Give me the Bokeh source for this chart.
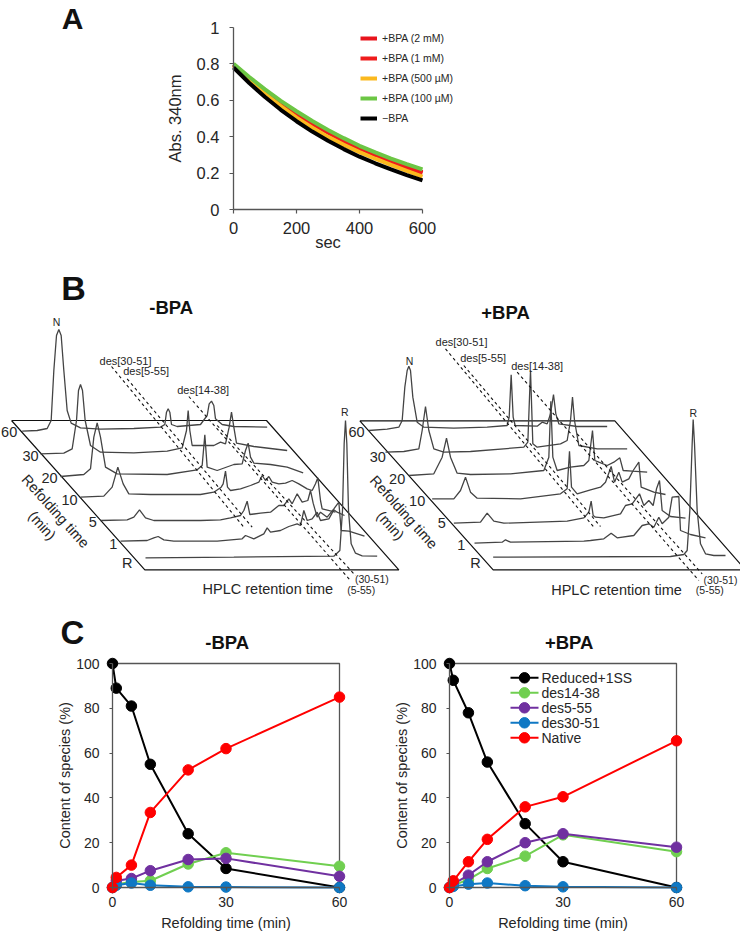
from bokeh.plotting import figure
from bokeh.layouts import column, row
from bokeh.models import Label, Legend, LegendItem, FixedTicker, Range1d
from bokeh.core.properties import value
from bokeh.embed import file_html
from bokeh.resources import INLINE

FONT = "Liberation Sans"
INK = "#262626"
AXIS = "#555555"

# ---------- Panel A: absorbance vs. time ----------
sec = [0, 50, 100, 150, 200, 250, 300, 350, 400, 450, 500, 550, 600]
abs_2mM = [0.797, 0.72, 0.65, 0.587, 0.53, 0.477, 0.428, 0.383, 0.342, 0.305, 0.27, 0.237, 0.205]
abs_1mM = [0.795, 0.718, 0.648, 0.584, 0.525, 0.471, 0.422, 0.376, 0.335, 0.298, 0.265, 0.232, 0.2]
abs_500uM = [0.79, 0.71, 0.636, 0.568, 0.505, 0.45, 0.399, 0.355, 0.315, 0.279, 0.245, 0.212, 0.18]
abs_100uM = [0.8, 0.728, 0.66, 0.597, 0.54, 0.486, 0.437, 0.392, 0.35, 0.314, 0.28, 0.249, 0.22]
abs_none = [0.78, 0.695, 0.618, 0.548, 0.485, 0.428, 0.378, 0.332, 0.29, 0.254, 0.22, 0.189, 0.16]
a_x_ticks = [0, 200, 400, 600]
a_y_ticks = [0, 0.2, 0.4, 0.6, 0.8, 1]
a_y_labels = ["0", "0.2", "0.4", "0.6", "0.8", "1"]

# ---------- Panel C: species content ----------
refold_t = [0, 1, 5, 10, 20, 30, 60]
minus_reduced = [100, 89, 81, 55, 24, 8.5, 0]
minus_des1438 = [0, 1.5, 2.5, 3, 10.5, 15.5, 9.5]
minus_des555 = [0, 3, 4, 7.5, 12.5, 13, 5]
minus_des3051 = [0, 1, 2, 1, 0.3, 0.2, 0]
minus_native = [0, 4.5, 10, 33.5, 52.5, 62, 85]
plus_reduced = [100, 92.5, 78, 56, 28.5, 11.5, 0]
plus_des1438 = [0, 1, 3.5, 8.5, 14, 23.5, 16]
plus_des555 = [0, 1.5, 5.5, 11.5, 20, 24, 18]
plus_des3051 = [0, 0.5, 1.5, 2, 0.8, 0.3, 0]
plus_native = [0, 3, 11.5, 21.5, 36, 40.5, 65.5]
c_x_ticks = [0, 30, 60]
c_y_ticks = [0, 20, 40, 60, 80, 100]

# ---------- Panel B: chromatograms (retention, signal) ----------
m60_rt = [0, 45, 75, 87, 95, 103, 110, 117, 125, 135, 147, 175, 235, 335, 415, 428, 433, 438, 443, 448, 465, 535, 555, 561, 568, 575, 580, 600, 635, 735]
m60_sig = [-2, 0, 6, 30, 180, 285, 303, 285, 180, 60, 22, 8, 4, 6, 10, 18, 55, 65, 55, 18, 12, 18, 45, 80, 88, 75, 35, 18, 12, 10]
m30_rt = [0, 70, 95, 108, 114, 120, 126, 134, 150, 180, 280, 380, 425, 438, 443, 448, 455, 520, 540, 555, 566, 573, 580, 588, 640, 740]
m30_sig = [0, 2, 15, 100, 190, 208, 190, 100, 25, 5, 3, 8, 18, 70, 130, 70, 25, 25, 35, 30, 80, 125, 80, 32, 22, 10]
m20_rt = [0, 70, 90, 100, 110, 120, 135, 170, 320, 410, 425, 433, 440, 470, 520, 545, 555, 563, 570, 580, 630, 680, 728]
m20_sig = [0, 6, 23, 118, 161, 118, 28, 8, 6, 20, 33, 125, 28, 18, 36, 38, 78, 100, 58, 40, 36, 28, 11]
m10_rt = [0, 70, 95, 112, 128, 145, 210, 360, 400, 422, 428, 435, 441, 450, 480, 510, 535, 545, 555, 565, 575, 595, 615, 635, 655, 680, 695, 705, 712, 720, 725, 765]
m10_sig = [0, 3, 30, 90, 40, 10, 8, 8, 15, 30, 40, 78, 30, 20, 25, 35, 45, 65, 50, 62, 45, 40, 42, 50, 40, 25, 20, 40, 58, -10, -35, -45]
m5_rt = [0, 80, 100, 117, 135, 160, 300, 360, 390, 420, 430, 440, 448, 480, 510, 535, 550, 565, 575, 590, 605, 622, 630, 638, 650, 660, 680, 700, 715, 722, 745, 792]
m5_sig = [0, 2, 10, 32, 8, 0, 0, 2, 8, 15, 30, 58, 18, 22, 25, 45, 45, 65, 50, 80, 55, 60, 90, 52, 10, 25, 10, 35, 55, -30, -32, -47]
m1_rt = [0, 80, 100, 113, 130, 160, 290, 365, 375, 400, 430, 440, 450, 480, 505, 530, 540, 550, 560, 575, 590, 600, 625, 640, 650, 672]
m1_sig = [0, 2, 10, 14, 4, 0, 0, 7, 17, 7, 22, 40, 27, 32, 44, 52, 47, 92, 62, 67, 87, 62, 67, 94, 87, 77]
mR_rt = [0, 265, 565, 583, 591, 596, 600, 604, 609, 617, 630, 650, 695]
mR_sig = [0, 2, 5, 22, 142, 342, 412, 342, 142, 42, 14, 6, 5]

p60_rt = [0, 55, 90, 100, 108, 115, 120, 125, 132, 145, 165, 255, 355, 415, 421, 427, 433, 439, 505, 520, 535, 545, 554, 561, 570, 625, 715]
p60_sig = [0, 4, 10, 30, 130, 180, 193, 180, 100, 25, 10, 7, 10, 15, 40, 167, 40, 15, 13, 25, 20, 50, 108, 50, 20, 12, 12]
p30_rt = [0, 55, 100, 110, 120, 130, 145, 175, 255, 415, 427, 435, 442, 455, 525, 545, 555, 561, 567, 580, 635, 725]
p30_sig = [0, 2, 10, 65, 137, 65, 10, 0, 2, 15, 30, 245, 25, 15, 25, 35, 95, 165, 95, 20, 10, 10]
p20_rt = [0, 75, 100, 113, 125, 145, 185, 305, 405, 420, 426, 432, 445, 485, 525, 540, 551, 558, 570, 595, 615, 633, 643, 670, 715]
p20_sig = [0, 5, 55, 112, 55, 7, 3, 5, 15, 55, 223, 55, 15, 25, 30, 45, 135, 45, 40, 30, 40, 53, 15, 13, 10]
p10_rt = [0, 65, 85, 100, 115, 135, 265, 385, 405, 412, 418, 435, 475, 505, 520, 537, 547, 560, 570, 590, 603, 620, 627, 665, 700]
p10_sig = [0, 0, 25, 65, 20, 2, 0, 15, 30, 143, 35, 15, 27, 35, 50, 97, 50, 80, 50, 60, 85, 110, 35, 20, 13]
p5_rt = [0, 80, 100, 120, 150, 340, 390, 405, 412, 418, 425, 450, 500, 515, 535, 557, 570, 585, 598, 608, 617, 625, 650, 695]
p5_sig = [0, 3, 30, 6, 0, 6, 16, 33, 66, 23, 18, 16, 28, 53, 58, 88, 53, 68, 53, 103, 128, 38, 20, 15]
p1_rt = [0, 83, 93, 108, 328, 348, 388, 410, 428, 478, 503, 523, 538, 553, 563, 583, 593, 613, 618, 648, 693]
p1_sig = [0, 3, 10, 3, 6, 8, 13, 30, 16, 23, 53, 58, 48, 78, 58, 78, 138, 140, 38, 26, 16]
pR_rt = [0, 532, 572, 582, 590, 597, 600, 604, 612, 622, 637, 662, 697]
pR_sig = [0, 2, 8, 20, 140, 340, 413, 340, 140, 40, 10, 5, 5]

row_labels = ["60", "30", "20", "10", "5", "1", "R"]
minus_traces = [(m60_rt, m60_sig), (m30_rt, m30_sig), (m20_rt, m20_sig), (m10_rt, m10_sig), (m5_rt, m5_sig), (m1_rt, m1_sig), (mR_rt, mR_sig)]
plus_traces = [(p60_rt, p60_sig), (p30_rt, p30_sig), (p20_rt, p20_sig), (p10_rt, p10_sig), (p5_rt, p5_sig), (p1_rt, p1_sig), (pR_rt, pR_sig)]

# ---------- layout constants for the stack drawing (1 unit = 1/3 px) ----------
minus_origin = [(65, 480), (120, 550), (180, 618), (240, 680), (300, 750), (360, 812), (435, 862)]
plus_origin = [(-5, 480), (45, 545), (115, 615), (185, 685), (250, 758), (312, 818), (368, 860)]
minus_floor = ([33, 798, 1195, 433, 33], [450, 450, 898, 898, 450])
plus_floor = ([-32, 733, 1125, 368, -32], [451, 451, 898, 898, 451])
minus_dash = [((333, 288), (730, 770)), ((380, 325), (755, 770)), ((565, 378), (1050, 930)), ((650, 465), (1065, 915))]
plus_dash = [((225, 235), (670, 770)), ((280, 285), (690, 768)), ((440, 305), (985, 930)), ((620, 490), (995, 910))]
minus_row_xy = [(26, 485), (90, 556), (147, 622), (207, 688), (277, 755), (338, 820), (380, 878)]
plus_row_xy = [(-42, 485), (22, 558), (80, 625), (140, 690), (214, 758), (272, 822), (315, 878)]
minus_small = [("N", 168, 153), ("des[30-51]", 375, 270), ("des[5-55]", 437, 302), ("des[14-38]", 608, 357), ("R", 1033, 425), ("(30-51)", 1114, 925), ("(5-55)", 1082, 957)]
plus_small = [("N", 117, 270), ("des[30-51]", 273, 215), ("des[5-55]", 338, 262), ("des[14-38]", 500, 287), ("R", 968, 427), ("(30-51)", 1050, 928), ("(5-55)", 1018, 957)]


def label(fig, fx, fy, text, x, y, size, bold=False, angle=0):
    fig.add_layout(Label(x=x - fx, y=fy - y, x_units="screen", y_units="screen", text=text,
                         text_font=FONT, text_font_size=f"{size}px", text_color="#111111" if bold else INK,
                         text_font_style="bold" if bold else "normal", text_align="center",
                         text_baseline="middle", angle=angle))


def style_axes(p, size, lstand, tstand, title_size):
    for ax in (p.xaxis[0], p.yaxis[0]):
        ax.axis_line_color = AXIS
        ax.axis_line_width = 1.3
        ax.major_tick_line_color = AXIS
        ax.major_tick_line_width = 1.2
        ax.major_tick_in = 0
        ax.major_tick_out = 4
        ax.minor_tick_line_color = None
        ax.major_label_text_font = FONT
        ax.major_label_text_font_size = f"{size}px"
        ax.major_label_text_color = INK
        ax.axis_label_text_font = FONT
        ax.axis_label_text_font_style = "normal"
        ax.axis_label_text_font_size = f"{title_size}px"
        ax.axis_label_text_color = INK
        ax.major_label_standoff = lstand
        ax.axis_label_standoff = tstand
    p.grid.visible = False
    p.outline_line_color = None
    p.xaxis.fixed_location = 0
    p.yaxis.fixed_location = 0


# ---------- figure A ----------
ASX = 189 / 600
ASY = 182.0
fa = figure(width=740, height=258, min_border=0,
            x_range=Range1d(-233 / ASX, (740 - 233) / ASX), y_range=Range1d(-(258 - 209) / ASY, 209 / ASY),
            output_backend="svg", toolbar_location=None, x_axis_label="sec", y_axis_label="Abs. 340nm")
style_axes(fa, 16.5, 8, 0, 16.5)
fa.yaxis[0].major_label_standoff = 10
fa.yaxis[0].axis_label_standoff = 10
fa.xaxis[0].axis_label_standoff = -4
fa.xaxis[0].ticker = FixedTicker(ticks=a_x_ticks)
fa.yaxis[0].ticker = FixedTicker(ticks=a_y_ticks)
fa.xaxis.bounds = (0, 600)
fa.yaxis.bounds = (0, 1)
fa.yaxis[0].major_label_overrides = dict(zip(a_y_ticks, a_y_labels))
a_series = [("+BPA (2 mM)", abs_2mM, "#e8141c"), ("+BPA (1 mM)", abs_1mM, "#ef1c1c"),
            ("+BPA (500 \u00b5M)", abs_500uM, "#fbb91e"), ("+BPA (100 \u00b5M)", abs_100uM, "#6cc644"),
            ("\u2212BPA", abs_none, "#000000")]
a_items = []
for name, vals, col in a_series:
    r = fa.line(sec, vals, line_color=col, line_width=4)
    a_items.append(LegendItem(label=name, renderers=[r]))
a_leg = Legend(items=a_items, location=(360, 258 - 124), orientation="vertical", padding=0, margin=0, spacing=8,
               glyph_width=17, glyph_height=12, label_height=12, label_standoff=5, border_line_color=None,
               background_fill_alpha=0, label_text_font=FONT, label_text_font_size="10.5px", label_text_color=INK)
fa.add_layout(a_leg, "center")
label(fa, 0, 258, "A", 72, 17.5, 30, bold=True)

# ---------- figure B ----------
fb = figure(width=740, height=354, min_border=0, x_range=Range1d(0, 2220), y_range=Range1d(612 * 3, 258 * 3),
            x_axis_type=None, y_axis_type=None, output_backend="svg", toolbar_location=None)
fb.grid.visible = False
fb.outline_line_color = None


def draw_stack(dx, floor, origin, traces, dashes, row_xy, small, title_xy, title, ref_xy, min_xy, hplc_xy):
    dy = 810
    fb.line([x + dx for x in floor[0]], [y + dy for y in floor[1]], line_color="#111111", line_width=1.2)
    for (ox, oy), (rt, sig) in zip(origin, traces):
        fb.line([ox + dx + r for r in rt], [oy + dy - s for s in sig], line_color="#444444", line_width=1.3)
    for (a, b) in dashes:
        fb.line([a[0] + dx, b[0] + dx], [a[1] + dy, b[1] + dy], line_color="#111111", line_width=1.1, line_dash="3 3")

    def t(x, y, s, size, bold=False, angle=0):
        fb.text([x + dx], [y + dy], text=[s], text_font=value(FONT), text_font_size=f"{size}px",
                text_color="#111111" if bold else INK, text_font_style="bold" if bold else "normal",
                text_align="center", text_baseline="middle", angle=angle, angle_units="deg")
    for s, (x, y) in zip(row_labels, row_xy):
        t(x, y, s, 14.5)
    for s, x, y in small:
        t(x, y, s, 11 if s.startswith("des") else 10.5)
    t(title_xy[0], title_xy[1], title, 18.5, bold=True)
    t(ref_xy[0], ref_xy[1], "Refolding time", 14.5, angle=-48)
    t(min_xy[0], min_xy[1], "(min)", 14.5, angle=-48)
    t(hplc_xy[0], hplc_xy[1], "HPLC retention time", 14.5)


draw_stack(0, minus_floor, minus_origin, minus_traces, minus_dash, minus_row_xy, minus_small, (512, 112), "-BPA", (165, 722), (125, 765), (802, 955))
draw_stack(1110, plus_floor, plus_origin, plus_traces, plus_dash, plus_row_xy, plus_small, (405, 125), "+BPA", (100, 725), (60, 765), (738, 957))
fb.text([219], [287 * 3], text=["B"], text_font=value(FONT), text_font_size="34px", text_font_style="bold",
        text_color="#111111", text_align="center", text_baseline="middle")

# ---------- figures C ----------
XS = 227 / 60
YS = 224 / 100
C_H = 319
C_TOP = 612
AXIS_Y = 887
c_colors = ["#000000", "#70cf50", "#7030a0", "#0f78c4", "#ff0000"]
c_names = ["Reduced+1SS", "des14-38", "des5-55", "des30-51", "Native"]


def panel_c(x0, width, axis_x, series, with_legend):
    p = figure(width=width, height=C_H, min_border=0,
               x_range=Range1d(-(axis_x - x0) / XS, (x0 + width - axis_x) / XS),
               y_range=Range1d(-(C_TOP + C_H - AXIS_Y) / YS, (AXIS_Y - C_TOP) / YS),
               output_backend="svg", toolbar_location=None, x_axis_label="Refolding time (min)",
               y_axis_label="Content of species (%)")
    style_axes(p, 14, 10, 0, 14.5)
    p.xaxis[0].major_tick_out = 3
    p.yaxis[0].major_tick_out = 3
    p.xaxis[0].major_label_standoff = 6
    p.xaxis[0].axis_label_standoff = 5
    p.xaxis[0].ticker = FixedTicker(ticks=c_x_ticks)
    p.yaxis[0].ticker = FixedTicker(ticks=c_y_ticks)
    p.xaxis.bounds = (0, 60)
    p.yaxis.bounds = (0, 100)
    p.line([c_x_ticks[0], c_x_ticks[-1], c_x_ticks[-1]], [c_y_ticks[-1], c_y_ticks[-1], c_y_ticks[0]],
           line_color=AXIS, line_width=1.3)
    for vals, col in zip(series, c_colors):
        p.line(refold_t, vals, line_color=col, line_width=2)
        p.scatter(refold_t, vals, size=10.5, fill_color=col, line_color=col)
    if with_legend:
        key_y = [(AXIS_Y - (677.3 + 15 * i)) / YS for i in range(5)]
        key_l = [(510 - axis_x) / XS] * 5
        key_r = [(538 - axis_x) / XS] * 5
        key_c = [(524 - axis_x) / XS] * 5
        key_t = [(541 - axis_x) / XS] * 5
        p.segment(key_l, key_y, key_r, key_y, line_color=c_colors, line_width=2)
        p.scatter(key_c, key_y, size=10.5, fill_color=c_colors, line_color=c_colors)
        p.text(key_t, key_y, text=c_names, text_font=value(FONT), text_font_size="14px", text_color=INK,
               text_align="left", text_baseline="middle")
    return p


fc1 = panel_c(0, 372, 112, [minus_reduced, minus_des1438, minus_des555, minus_des3051, minus_native], False)
fc2 = panel_c(372, 368, 449, [plus_reduced, plus_des1438, plus_des555, plus_des3051, plus_native], True)
label(fc1, 0, 931, "C", 72, 632, 33, bold=True)
label(fc1, 0, 931, "-BPA", 226.7, 641.5, 18.5, bold=True)
label(fc2, 372, 931, "+BPA", 568.7, 641.5, 18.5, bold=True)

root = column(fa, fb, row(fc1, fc2, spacing=0), spacing=0)
open("out.html", "w").write(file_html(root, INLINE))
